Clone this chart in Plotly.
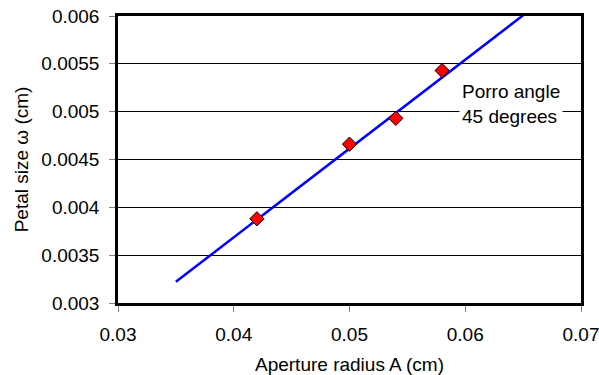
import plotly.graph_objects as go

aperture = [0.042, 0.050, 0.054, 0.058]
petal = [0.00388, 0.00466, 0.00493, 0.00543]
fit_x = [0.035, 0.0651]
fit_y = [0.003222, 0.006017]
x_ticks = [0.03, 0.04, 0.05, 0.06, 0.07]
y_ticks = [0.003, 0.0035, 0.004, 0.0045, 0.005, 0.0055, 0.006]

FONT = "Liberation Sans, Arial, sans-serif"
FS = 19

fig = go.Figure()
fig.add_trace(go.Scatter(x=fit_x, y=fit_y, mode="lines",
                         line=dict(color="#0000FF", width=2.5), showlegend=False))
fig.add_trace(go.Scatter(x=aperture, y=petal, mode="markers",
                         marker=dict(symbol="diamond", size=11, color="#FF0000",
                                     line=dict(color="black", width=1)),
                         showlegend=False))

fig.add_annotation(x=0.06395, y=0.00508, xref="x", yref="y",
                   text="Porro angle<br>45 degrees", showarrow=False,
                   align="left", bgcolor="white",
                   font=dict(family=FONT, size=FS, color="black"),
                   borderpad=2)

fig.update_layout(
    width=599, height=375,
    margin=dict(l=118, r=18, t=16, b=72, autoexpand=False),
    paper_bgcolor="white", plot_bgcolor="white",
    font=dict(family=FONT, size=FS, color="black"),
    xaxis=dict(range=[0.03, 0.07], tickvals=x_ticks,
               ticktext=[str(v) for v in x_ticks],
               tickfont=dict(family=FONT, size=FS, color="black"),
               ticklabeloverflow="allow", ticklabelstandoff=6,
               showgrid=False, zeroline=False, automargin=False,
               showline=True, linecolor="black", linewidth=2.5, mirror=True,
               ticks="outside", ticklen=6, tickcolor="#808080", tickwidth=1,
               title=dict(text="Aperture radius A (cm)", standoff=15,
                          font=dict(family=FONT, size=FS, color="black"))),
    yaxis=dict(range=[0.003, 0.006], tickvals=y_ticks,
               ticktext=[str(v) for v in y_ticks],
               tickfont=dict(family=FONT, size=FS, color="black"),
               ticklabeloverflow="allow", ticklabelstandoff=6,
               showgrid=True, gridcolor="black", gridwidth=1, zeroline=False,
               automargin=False,
               showline=True, linecolor="black", linewidth=2.5, mirror=True,
               ticks="outside", ticklen=6, tickcolor="#808080", tickwidth=1,
               title=dict(text="Petal size ω (cm)", standoff=8,
                          font=dict(family=FONT, size=FS, color="black"))),
)

# remove the browser's default 8px page margin so the figure fills the window
fig.write_html("out.html",
               config={"displayModeBar": False},
               post_script="document.body.style.margin='0';document.body.style.overflow='hidden';")
